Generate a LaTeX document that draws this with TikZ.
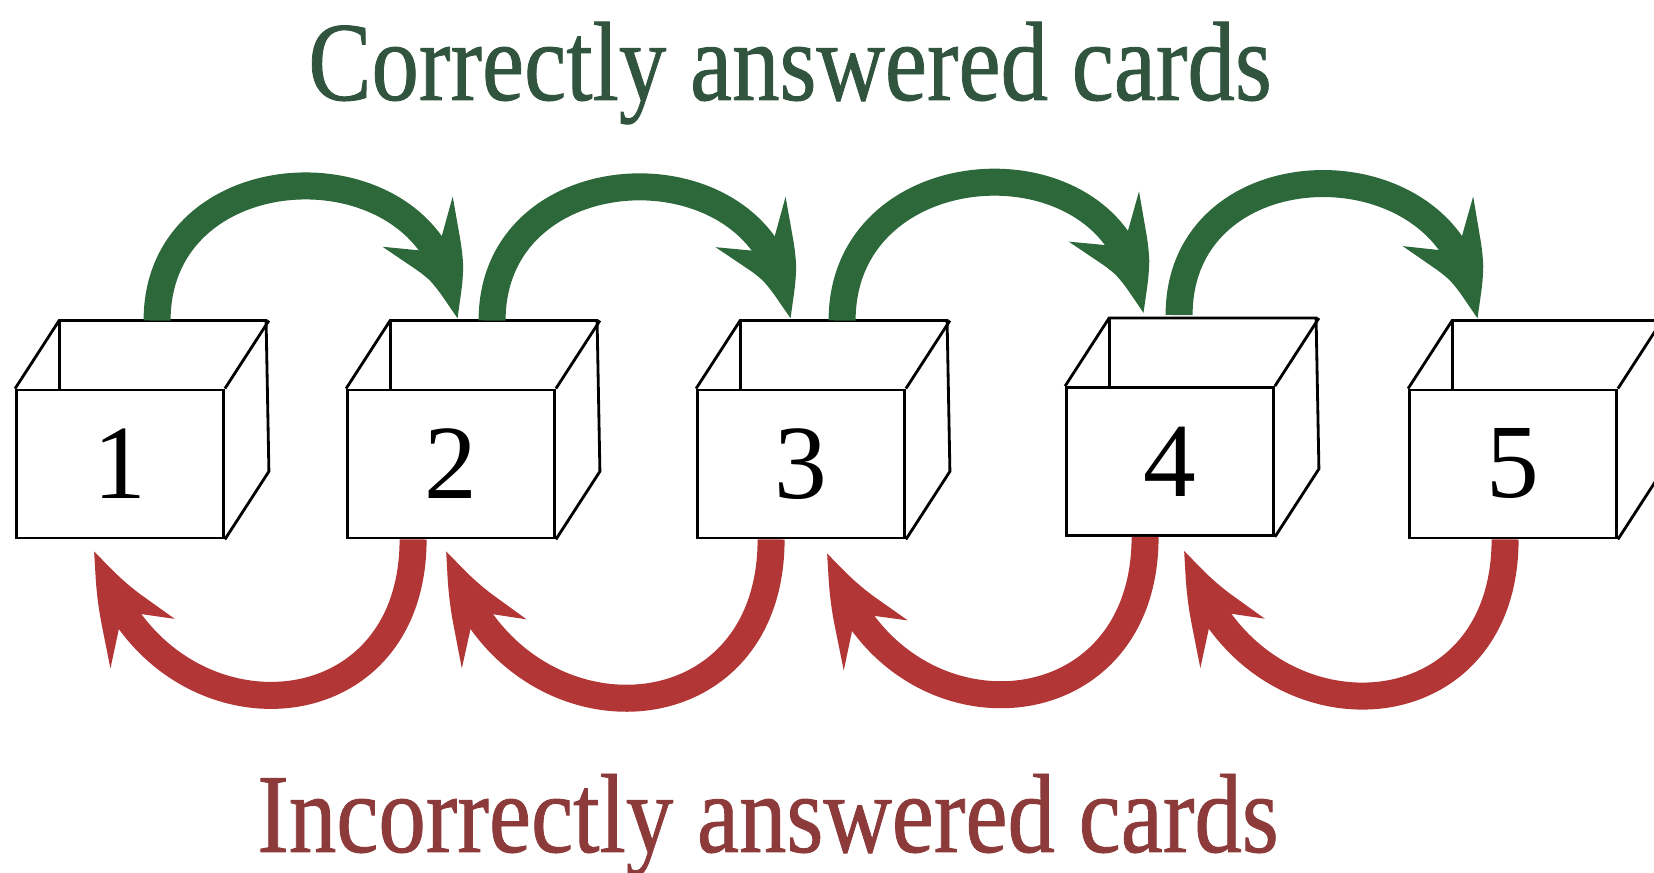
\documentclass[tikz,border=0pt]{standalone}
\usepackage{fontspec}
\setmainfont{Liberation Serif}
\newfontfamily\capfont{Liberation Serif}[AutoFakeBold=0.8]
\usetikzlibrary{arrows.meta, bending, calc}

\definecolor{rightgreen}{RGB}{44,104,58}
\definecolor{rightgreentext}{RGB}{48,84,62}
\definecolor{wrongred}{RGB}{178,54,54}
\definecolor{wrongredtext}{RGB}{140,58,58}

\begin{document}
\begin{tikzpicture}[
    cardbox/.style = {
      rectangle, draw, line width = 0.8pt, fill = white,
      minimum width = 2.07cm, minimum height = 1.48cm,
      inner sep = 0pt, font = \fontsize{30}{30}\selectfont
    },
    edge/.style = {line width = 0.8pt},
    caption/.style = {
      anchor = base, inner sep = 0pt,
      font = \capfont\bfseries\fontsize{32}{32}\selectfont
    },
    good/.style = {
      rightgreen, line width = 0.27cm,
      -{Stealth[length = 1.15cm, width = 0.82cm, inset = 0.4cm, bend]}
    },
    bad/.style = {
      wrongred, line width = 0.27cm,
      -{Stealth[length = 1.1cm, width = 0.78cm, inset = 0.4cm, bend]}
    }
  ]

  \useasboundingbox (0,0) rectangle (16.54,-8.73);

  % ---- Captions ----
  \node[caption, rightgreentext] (up)   at (7.90,-1.00) {\scalebox{0.843}[1]{Correctly answered cards}};
  \node[caption, wrongredtext]   (down) at (7.68,-8.52) {\scalebox{0.843}[1]{Incorrectly answered cards}};

  % ---- Boxes: front faces ----
  \node[cardbox] (b1) at ( 1.20,-4.64)  {1};
  \node[cardbox] (b2) at ( 4.51,-4.64)  {2};
  \node[cardbox] (b3) at ( 8.01,-4.64)  {3};
  \node[cardbox] (b4) at (11.70,-4.615) {4};
  \node[cardbox] (b5) at (15.13,-4.64)  {5};

  % open top and right side of every box
  \foreach \b in {b1,b2,b3,b4,b5} {
    \draw[edge] (\b.north west) -- ++(0.44,0.68) -- ++(2.07,0)
      -- ([shift={(0.44,0.68)}]\b.south east) -- (\b.south east);
    \draw[edge] ([shift={(0.44,0.68)}]\b.north west) -- ++(0,-0.68);
    \draw[edge] (\b.north east) -- ++(0.44,0.68);
  }

  % ---- Correct: one box up ----
  \draw[good] ([shift={(1.42,0.68)}]b1.north west) to[out=90, in=90, looseness=1.55] ([shift={(1.08,0.68)}]b2.north west);
  \draw[good] ([shift={(1.46,0.68)}]b2.north west) to[out=90, in=90, looseness=1.55] ([shift={(0.91,0.68)}]b3.north west);
  \draw[good] ([shift={(1.46,0.68)}]b3.north west) to[out=90, in=90, looseness=1.55] ([shift={(0.75,0.71)}]b4.north west);
  \draw[good] ([shift={(1.14,0.71)}]b4.north west) to[out=90, in=90, looseness=1.55] ([shift={(0.66,0.68)}]b5.north west);

  % ---- Incorrect: one box down ----
  \draw[bad] ([xshift=0.67cm]b2.south west) to[out=-90, in=-75, looseness=1.65] ([shift={(0.81,-0.10)}]b1.south west);
  \draw[bad] ([xshift=0.75cm]b3.south west) to[out=-90, in=-75, looseness=1.65] ([shift={(1.02,-0.10)}]b2.south west);
  \draw[bad] ([xshift=0.80cm]b4.south west) to[out=-90, in=-75, looseness=1.65] ([shift={(1.33,-0.12)}]b3.south west);
  \draw[bad] ([xshift=0.97cm]b5.south west) to[out=-90, in=-75, looseness=1.65] ([shift={(1.21,-0.12)}]b4.south west);

\end{tikzpicture}
\end{document}
